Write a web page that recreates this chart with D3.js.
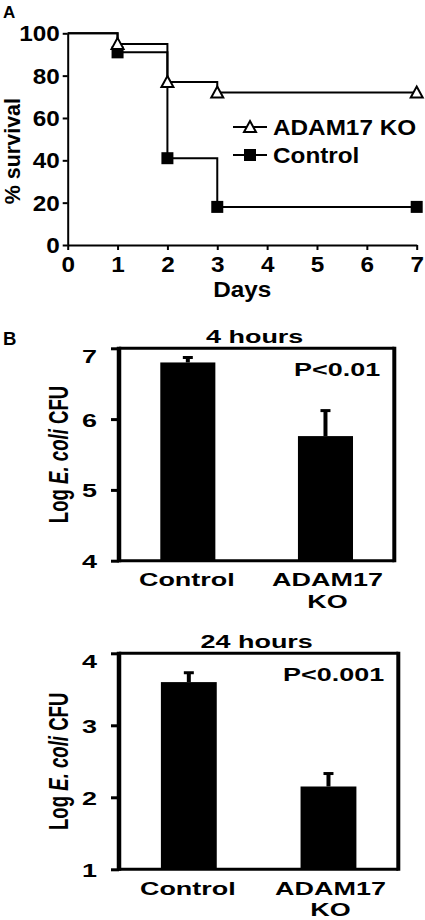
<!DOCTYPE html>
<html><head><meta charset="utf-8">
<script src="https://cdn.jsdelivr.net/npm/d3@7"></script>
<style>
body{margin:0;background:#fff}
text{font-family:"Liberation Sans",Arial,Helvetica,sans-serif;font-weight:bold;fill:#000}
</style>
</head><body>
<svg id="c" width="425" height="920"></svg>
<script>
// ---- Data ----
const days = [0, 1, 2, 3, 7];
const koSurvival = [100, 95, 77, 72, 72];
const controlSurvival = [100, 91, 41, 18, 18];
const dayTicks = [0, 1, 2, 3, 4, 5, 6, 7];
const survivalTicks = [0, 20, 40, 60, 80, 100];
const legendLabels = ["ADAM17 KO", "Control"];

const groups = ["Control", "ADAM17 KO"];
const cfu4h = [6.80, 5.76];
const err4h = [0.07, 0.36];
const ticks4h = [4, 5, 6, 7];
const cfu24h = [3.60, 2.15];
const err24h = [0.13, 0.18];
const ticks24h = [1, 2, 3, 4];
const titles = ["4 hours", "24 hours"];
const pvals = ["P<0.01", "P<0.001"];

const svg = d3.select("#c");

// ---- Panel A ----
const A = {left: 67.7, right: 416.7, top: 33.3, bottom: 245};
const fA = 21.5, SXA = 1.13;
const xA = d3.scaleLinear().domain([0, 7]).range([A.left, A.right]);
const yA = d3.scaleLinear().domain([0, 100]).range([A.bottom, A.top]);

svg.append("text").attr("x", 3).attr("y", 18).style("font-size", "17px").text("A");

const axY = svg.append("g").attr("transform", `translate(${A.left},0)`)
  .call(d3.axisLeft(yA).tickValues(survivalTicks).tickSize(5).tickSizeOuter(0).tickFormat(d3.format("d")));
const axX = svg.append("g").attr("transform", `translate(0,${A.bottom})`)
  .call(d3.axisBottom(xA).tickValues(dayTicks).tickSize(5).tickSizeOuter(0).tickFormat(d3.format("d")));
[axY, axX].forEach(ax => {
  ax.selectAll("path,line").attr("stroke", "#000").attr("stroke-width", 2);
  ax.selectAll("text").style("font-size", fA + "px").attr("fill", "#000");
  ax.attr("font-family", null).attr("font-size", null);
});
axY.selectAll("text").attr("x", null).attr("dy", "0.35em").attr("transform", `translate(-8,0) scale(${SXA},1)`);
axX.selectAll("text").attr("y", null).attr("dy", "0.71em").attr("transform", `translate(0,12) scale(${SXA},1)`);

svg.append("text").attr("transform", `translate(${(A.left + A.right) / 2},297) scale(${SXA},1)`)
  .attr("text-anchor", "middle").style("font-size", fA + "px").text("Days");
svg.append("text").attr("transform", `translate(20,${(A.top + A.bottom) / 2 + 12}) rotate(-90)`)
  .attr("text-anchor", "middle").style("font-size", "21.5px").text("% survival");

const line = d3.line().x((d, i) => xA(days[i])).y(d => yA(d)).curve(d3.curveStepAfter);
[controlSurvival, koSurvival].forEach(s => {
  svg.append("path").attr("d", line(s)).attr("fill", "none").attr("stroke", "#000").attr("stroke-width", 2);
});

const triW = 12, triH = 10, sq = 12;
function tri(g, cx, cy) {
  g.append("path").attr("d", `M${cx},${cy - triH / 2 - 1}L${cx + triW / 2},${cy + triH / 2}L${cx - triW / 2},${cy + triH / 2}Z`)
    .attr("fill", "#fff").attr("stroke", "#000").attr("stroke-width", 2).attr("stroke-linejoin", "miter");
}
function sqr(g, cx, cy) {
  g.append("rect").attr("x", cx - sq / 2).attr("y", cy - sq / 2).attr("width", sq).attr("height", sq).attr("fill", "#000");
}
const mk = svg.append("g");
controlSurvival.forEach((v, i) => { if (i > 0) sqr(mk, xA(days[i]), yA(v)); });
koSurvival.forEach((v, i) => { if (i > 0) tri(mk, xA(days[i]), yA(v)); });

// legend
const lg = svg.append("g");
const legY = [127, 155];
legendLabels.forEach((lab, i) => {
  lg.append("line").attr("x1", 233).attr("x2", 267).attr("y1", legY[i]).attr("y2", legY[i])
    .attr("stroke", "#000").attr("stroke-width", 2);
  if (i === 0) tri(lg, 250, legY[i]); else sqr(lg, 250, legY[i]);
  lg.append("text").attr("transform", `translate(273,${legY[i] + 8}) scale(${SXA},1)`)
    .style("font-size", fA + "px").text(lab);
});

// ---- Panel B ----
svg.append("text").attr("x", 3).attr("y", 345).style("font-size", "18.6px").text("B");
const SX = 1.45, fB = 18.6;

function stretchText(g, x, y, str, anchor) {
  return g.append("text").attr("transform", `translate(${x},${y}) scale(${SX},1)`)
    .attr("text-anchor", anchor || "middle").style("font-size", fB + "px").text(str);
}

function barChart(box, values, errs, ticks, title, pval) {
  const g = svg.append("g");
  const x = d3.scaleBand().domain(groups).range([box.left, box.right]).paddingInner(0.6).paddingOuter(0.3);
  const y = d3.scaleLinear().domain([ticks[0], ticks[ticks.length - 1]]).range([box.bottom, box.top]);

  g.selectAll("rect.bar").data(groups).join("rect").attr("class", "bar")
    .attr("x", d => x(d)).attr("width", x.bandwidth())
    .attr("y", (d, i) => y(values[i])).attr("height", (d, i) => y(ticks[0]) - y(values[i]))
    .attr("fill", "#000");
  groups.forEach((d, i) => {
    const cx = x(d) + x.bandwidth() / 2;
    g.append("line").attr("x1", cx).attr("x2", cx).attr("y1", y(values[i])).attr("y2", y(values[i] + errs[i]))
      .attr("stroke", "#000").attr("stroke-width", 4);
    g.append("line").attr("x1", cx - 5).attr("x2", cx + 5).attr("y1", y(values[i] + errs[i])).attr("y2", y(values[i] + errs[i]))
      .attr("stroke", "#000").attr("stroke-width", 3);
  });

  const ax = g.append("g").attr("transform", `translate(${box.left},0)`)
    .call(d3.axisLeft(y).tickValues(ticks).tickSize(8).tickSizeOuter(0).tickFormat(d3.format("d")));
  ax.select(".domain").remove();
  ax.selectAll("line").attr("stroke", "#000").attr("stroke-width", 3);
  ax.selectAll("text").attr("x", null).attr("dy", null)
    .attr("transform", (d, i) => `translate(-22,${i === ticks.length - 1 ? 14 : 7}) scale(${SX},1)`)
    .style("font-size", fB + "px").attr("fill", "#000");
  ax.attr("font-family", null).attr("font-size", null);

  g.append("line").attr("x1", box.left).attr("x2", box.left).attr("y1", box.top - 1.5).attr("y2", box.bottom + 1.5).attr("stroke", "#000").attr("stroke-width", 4.5);
  g.append("line").attr("x1", box.right).attr("x2", box.right).attr("y1", box.top - 1.5).attr("y2", box.bottom + 1.5).attr("stroke", "#000").attr("stroke-width", 4);
  g.append("line").attr("x1", box.left).attr("x2", box.right).attr("y1", box.top).attr("y2", box.top).attr("stroke", "#000").attr("stroke-width", 3);
  g.append("line").attr("x1", box.left).attr("x2", box.right).attr("y1", box.bottom).attr("y2", box.bottom).attr("stroke", "#000").attr("stroke-width", 3);

  stretchText(g, (box.left + box.right) / 2 - 2, box.top - 5, title);
  stretchText(g, box.right - 14, box.top + 27.5, pval, "end");
  groups.forEach((d, i) => {
    const cx = x(d) + x.bandwidth() / 2;
    const parts = d.split(" ");
    if (parts.length === 1) stretchText(g, cx - 1, box.bottom + 25.5, d);
    else {
      stretchText(g, cx + 2, box.bottom + 25.5, parts[0]);
      stretchText(g, cx + 2, box.bottom + 47, parts[1]);
    }
  });
  const yl = g.append("text").attr("transform", `translate(68,${(box.top + box.bottom) / 2}) scale(${SX},1) rotate(-90)`)
    .attr("text-anchor", "middle").style("font-size", fB + "px");
  yl.append("tspan").text("Log ");
  yl.append("tspan").style("font-style", "italic").text("E. coli");
  yl.append("tspan").text(" CFU");
}

barChart({left: 119, right: 394.3, top: 348.3, bottom: 560.7}, cfu4h, err4h, ticks4h, titles[0], pvals[0]);
barChart({left: 119, right: 398.3, top: 653.3, bottom: 869.3}, cfu24h, err24h, ticks24h, titles[1], pvals[1]);
</script>
</body></html>
